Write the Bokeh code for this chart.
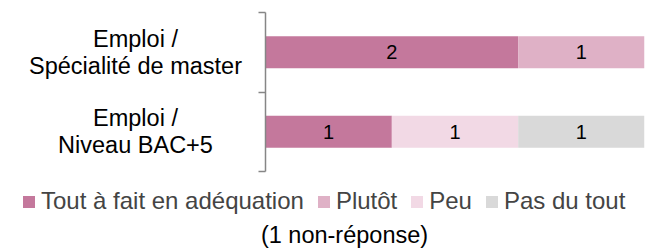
from bokeh.plotting import figure
from bokeh.models import (Range1d, FixedTicker, Legend, LegendItem, Label, ColumnDataSource)
from bokeh.layouts import row, column
from bokeh.core.properties import value
from bokeh.embed import file_html
from bokeh.resources import INLINE

categories = ["Emploi /\nNiveau BAC+5", "Emploi /\nSpécialité de master"]
series = ["Tout à fait en adéquation", "Plutôt", "Peu", "Pas du tout"]
tout_a_fait = [1, 2]
plutot = [0, 1]
peu = [1, 0]
pas_du_tout = [1, 0]
colors = ["#C4789C", "#DFB1C6", "#F2D9E5", "#D9D9D9"]
note = "(1 non-réponse)"

FONT = "Liberation Sans"
FS = "23.5px"
FS_LEG = "24px"
FS_BAR = "20px"

values = [tout_a_fait, plutot, peu, pas_du_tout]
ypos = [i + 0.5 for i in range(len(categories))]
total = max(sum(v[i] for v in values) for i in range(len(categories)))

yr = Range1d(0, len(categories))
common = dict(output_backend="svg", toolbar_location=None)

data = {"y": ypos}
for s, v in zip(series, values):
    data[s] = v
src = ColumnDataSource(data)

# --- category labels panel
L = figure(width=250, height=180, x_range=Range1d(0, 1), y_range=yr,
           min_border_left=0, min_border_right=0, min_border_top=12, min_border_bottom=9,
           **common)
L.axis.visible = False
L.grid.visible = False
L.outline_line_color = None
L.text(x=[0.5] * len(categories), y=ypos, text=categories, text_align="center",
       text_baseline="middle", text_font=value(FONT), text_font_size=FS,
       text_color="black", text_line_height=1.05, x_offset=10)

# --- bars panel
ticks = list(range(len(categories) + 1))
p = figure(width=406, height=180, x_range=Range1d(0, total), y_range=yr,
           min_border_left=15, min_border_right=12, min_border_top=12, min_border_bottom=9,
           **common)
p.outline_line_color = None
p.grid.visible = False
p.xaxis.visible = False
yax = p.yaxis[0]
yax.ticker = FixedTicker(ticks=ticks)
yax.major_label_overrides = {t: "" for t in ticks}
yax.major_label_text_font_size = "1px"
yax.major_label_standoff = 0
yax.axis_line_color = "#868686"
yax.axis_line_width = 1.5
yax.major_tick_line_color = "#868686"
yax.major_tick_line_width = 1.5
yax.major_tick_out = 7
yax.major_tick_in = 0
yax.minor_tick_line_color = None

p.hbar_stack(series, y="y", height=0.4, color=colors, source=src, line_color=None)

tx, ty, tt = [], [], []
for i in range(len(categories)):
    left = 0
    for v in values:
        if v[i] > 0:
            tx.append(left + v[i] / 2)
            ty.append(ypos[i])
            tt.append(str(v[i]))
        left += v[i]
p.text(x=tx, y=ty, text=tt, text_align="center", text_baseline="middle",
       text_font=value(FONT), text_font_size=FS_BAR, text_color="black")

# --- legend panel
B = figure(width=656, height=71, x_range=Range1d(0, 1), y_range=Range1d(0, 1),
           min_border=0, **common)
B.axis.visible = False
B.grid.visible = False
B.outline_line_color = None
lrs = B.hbar_stack(series, y="y", height=0.4, color=colors, source=src, line_color=None)
for r in lrs:
    r.visible = False
legend = Legend(items=[LegendItem(label=s, renderers=[r]) for s, r in zip(series, lrs)],
                orientation="horizontal", location=(21, 36),
                glyph_width=15, glyph_height=15, label_standoff=5, spacing=12,
                padding=0, margin=0, border_line_color=None, background_fill_alpha=0,
                inactive_fill_alpha=0,
                label_text_font=FONT, label_text_font_size=FS_LEG, label_height=24)
B.add_layout(legend, "center")
B.add_layout(Label(x=344, x_units="screen", y=17, y_units="screen", text=note,
                   text_align="center", text_baseline="middle",
                   text_font=FONT, text_font_size=FS, text_color="black"))

layout = column(row(L, p), B)
open("out.html", "w").write(file_html(layout, INLINE))
